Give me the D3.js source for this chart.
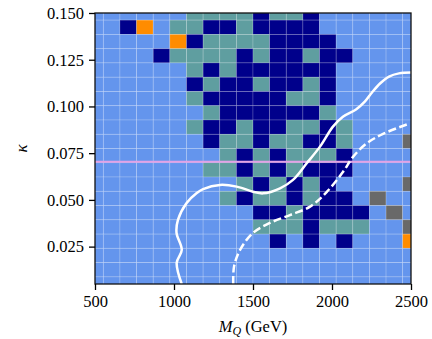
<!DOCTYPE html>
<html>
<head>
<meta charset="utf-8">
<script src="https://cdn.jsdelivr.net/npm/d3@7"></script>
<style>
  body { margin: 0; background: #fff; }
  text { font-family: "Liberation Serif", "DejaVu Serif", serif; fill: #000; }
</style>
</head>
<body>
<div id="chart"></div>
<script>
// grid centres (M_Q in GeV, kappa)
const mValues = [500, 605.3, 710.5, 815.8, 921.1, 1026.3, 1131.6, 1236.8, 1342.1, 1447.4,
  1552.6, 1657.9, 1763.2, 1868.4, 1973.7, 2078.9, 2184.2, 2289.5, 2394.7, 2500];
const kappaValues = [0.0050, 0.0126, 0.0203, 0.0279, 0.0355, 0.0432, 0.0508, 0.0584, 0.0661, 0.0737,
  0.0813, 0.0889, 0.0966, 0.1042, 0.1118, 0.1195, 0.1271, 0.1347, 0.1424, 0.1500];

// cell classes, top row (kappa = 0.150) first
// L = allowed, N = excluded, T = partially excluded, O = other, G = no data
const cellRows = [
  'LLLLLLTTTTNTTNLLLLLL',
  'LLNOLTTNNTNNNNLLLLLL',
  'LLLLLONTTTTNNNNLLLLL',
  'LLLLNTTTTNTNNTNNLLLL',
  'LLLLLLTNTNNNNNNLLLLL',
  'LLLLLLNTNNTNNTNLLLLL',
  'LLLLLLTNNNNNTTNLLLLL',
  'LLLLLLLTNNNNNNTLLLLL',
  'LLLLLLTNNTNNTTNTLLLL',
  'LLLLLLLNTTNTTNNTLLLG',
  'LLLLLLLLTNTNTTTNLLLL',
  'LLLLLLLTTNTNTNNNLLLL',
  'LLLLLLLLLTNTNTNLLLLG',
  'LLLLLLLLTNTTNTNNLGLL',
  'LLLLLLLLLLNNTNNNNLGL',
  'LLLLLLLLLLTTTNTTTLLG',
  'LLLLLLLLLLLNLNLNLLLO',
  'LLLLLLLLLLLLLLLLLLLL',
  'LLLLLLLLLLLLLLLLLLLL',
  'LLLLLLLLLLLLLLLLLLLL'
];
const cellColors = { L: '#6495ed', N: '#00008b', T: '#5f9ea0', O: '#ff8c00', G: '#696969' };

// contour lines [M_Q, kappa]
const solidContour = [[1049, 0.005], [1017, 0.0163], [1049, 0.0232], [1016, 0.0323], [1025, 0.0393],
  [1080, 0.0484], [1144, 0.0537], [1184, 0.0558], [1291, 0.0580], [1397, 0.0571], [1500, 0.0544],
  [1563, 0.0535], [1671, 0.0562], [1753, 0.0607], [1840, 0.0696], [1924, 0.0785], [2006, 0.0892],
  [2069, 0.0945], [2152, 0.0984], [2209, 0.1027], [2253, 0.1075], [2304, 0.1123], [2361, 0.1160],
  [2424, 0.1177], [2500, 0.1181]];
const dashedContour = [[1375, 0.005], [1380, 0.0143], [1418, 0.0232], [1500, 0.0323], [1608, 0.0377],
  [1734, 0.0419], [1861, 0.0464], [1966, 0.0542], [2069, 0.0649], [2133, 0.0730], [2220, 0.0803],
  [2323, 0.0853], [2494, 0.0910]];
const kappaLine = 0.0704;

const xTicks = [500, 1000, 1500, 2000, 2500];
const yTicks = [0.025, 0.050, 0.075, 0.100, 0.125, 0.150];

const W = 432, H = 339;
const margin = { top: 13, right: 21, bottom: 55, left: 95 };
const pw = W - margin.left - margin.right;
const ph = H - margin.top - margin.bottom;

const svg = d3.select('#chart').append('svg')
  .attr('width', W)
  .attr('height', H);

const x = d3.scaleLinear().domain([500, 2500]).range([0, pw]);
const y = d3.scaleLinear().domain([0.005, 0.150]).range([ph, 0]);

const g = svg.append('g')
  .attr('transform', `translate(${margin.left},${margin.top})`);

g.append('clipPath').attr('id', 'clip')
  .append('rect').attr('width', pw).attr('height', ph);

const plot = g.append('g').attr('clip-path', 'url(#clip)');

// cell edges half way between centres
const edges = (v) => {
  const e = [v[0] - (v[1] - v[0]) / 2];
  for (let i = 0; i < v.length - 1; i++) e.push((v[i] + v[i + 1]) / 2);
  e.push(v[v.length - 1] + (v[v.length - 1] - v[v.length - 2]) / 2);
  return e;
};
const mEdges = edges(mValues);
const kEdges = edges(kappaValues);

const cells = [];
cellRows.forEach((row, r) => {
  const j = kappaValues.length - 1 - r;
  row.split('').forEach((c, i) => cells.push({ i, j, c }));
});

plot.selectAll('rect.cell')
  .data(cells)
  .enter().append('rect')
  .attr('class', 'cell')
  .attr('x', (d) => x(mEdges[d.i]))
  .attr('y', (d) => y(kEdges[d.j + 1]))
  .attr('width', (d) => x(mEdges[d.i + 1]) - x(mEdges[d.i]))
  .attr('height', (d) => y(kEdges[d.j]) - y(kEdges[d.j + 1]))
  .style('fill', (d) => cellColors[d.c])
  .style('stroke', 'rgba(255,255,255,0.22)')
  .style('stroke-width', 0.8);

// horizontal reference line
plot.append('line')
  .attr('x1', 0).attr('x2', pw)
  .attr('y1', y(kappaLine)).attr('y2', y(kappaLine))
  .style('stroke', '#e2a2e6')
  .style('stroke-width', 2);

const line = d3.line()
  .x((d) => x(d[0]))
  .y((d) => y(d[1]))
  .curve(d3.curveCatmullRom.alpha(0.5));

plot.append('path')
  .datum(solidContour)
  .attr('d', line)
  .style('fill', 'none')
  .style('stroke', '#fff')
  .style('stroke-width', 2.5);

plot.append('path')
  .datum(dashedContour)
  .attr('d', line)
  .style('fill', 'none')
  .style('stroke', '#fff')
  .style('stroke-width', 2.5)
  .style('stroke-dasharray', '8,3.5');

// frame
g.append('rect')
  .attr('width', pw).attr('height', ph)
  .style('fill', 'none')
  .style('stroke', '#111')
  .style('stroke-width', 1.3);

// axes
const xAxis = g.append('g')
  .attr('transform', `translate(0,${ph})`)
  .call(d3.axisBottom(x).tickValues(xTicks).tickSize(6).tickPadding(5).tickFormat(d3.format('d')));
const yAxis = g.append('g')
  .call(d3.axisLeft(y).tickValues(yTicks).tickSize(6).tickPadding(5).tickFormat(d3.format('.3f')));

[xAxis, yAxis].forEach((a) => {
  a.select('.domain').remove();
  a.selectAll('line').style('stroke', '#000').style('stroke-width', 1.3);
  a.selectAll('text').style('font-family', '"Liberation Serif", serif').style('font-size', '16.5px');
});

// axis labels
const xl = svg.append('text')
  .attr('x', margin.left + pw / 2)
  .attr('y', 332)
  .attr('text-anchor', 'middle')
  .style('font-size', '16.5px');
xl.append('tspan').style('font-style', 'italic').text('M');
xl.append('tspan').style('font-style', 'italic').style('font-size', '12px').attr('dy', 3).text('Q');
xl.append('tspan').attr('dy', -3).text(' (GeV)');

svg.append('text')
  .attr('transform', `translate(27,${margin.top + y(0.0775)}) rotate(-90)`)
  .attr('text-anchor', 'middle')
  .style('font-size', '17px')
  .style('font-style', 'italic')
  .text('κ');
</script>
</body>
</html>
